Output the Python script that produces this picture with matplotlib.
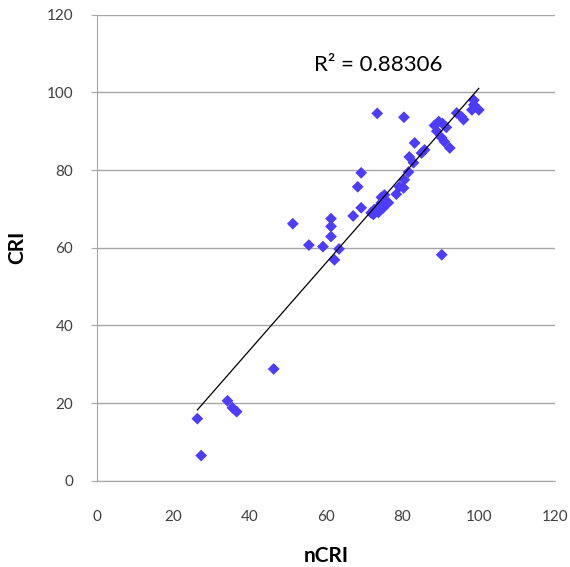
import numpy as np
import matplotlib
matplotlib.use("Agg")
import matplotlib.pyplot as plt

plt.rcParams['font.family'] = ['Lato', 'DejaVu Sans']

ncri = [26.3, 27.3, 34.2, 35.5, 36.6, 46.3, 51.3, 55.5, 59.2, 61.3, 61.3, 61.3,
        62.2, 63.4, 67.1, 68.3, 69.2, 69.2, 71.8, 72.4, 72.6, 73.4, 73.7, 73.7,
        74.5, 75.0, 75.3, 74.5, 75.3, 76.3, 78.4, 79.2, 80.3, 80.5, 80.4, 81.6,
        81.8, 82.9, 83.2, 85.0, 85.8, 88.4, 89.5, 89.0, 90.5, 91.5, 90.3, 91.0,
        92.4, 90.3, 94.2, 95.5, 96.0, 98.2, 98.7, 98.7, 100.0]
cri = [16.0, 6.5, 20.6, 18.8, 17.8, 28.8, 66.2, 60.7, 60.3, 67.5, 65.5, 62.9,
       56.9, 59.7, 68.2, 75.7, 79.3, 70.3, 69.0, 68.6, 69.8, 94.6, 70.5, 69.1,
       71.6, 70.3, 72.3, 73.0, 73.6, 71.6, 73.8, 75.7, 75.4, 77.5, 93.6, 79.5,
       83.4, 81.9, 87.0, 84.4, 85.2, 91.5, 92.5, 90.0, 92.0, 91.0, 88.3, 87.3,
       85.7, 58.2, 94.7, 93.7, 93.0, 95.5, 98.0, 96.8, 95.5]

x_ticks = [0, 20, 40, 60, 80, 100, 120]
y_ticks = [0, 20, 40, 60, 80, 100, 120]

fig = plt.figure(figsize=(5.7, 5.67), dpi=100)
ax = fig.add_axes([0.170, 0.152, 0.804, 0.822])

ax.scatter(ncri, cri, marker="D", s=36, color="#4d3cfa", edgecolors="none", zorder=3)

# linear trendline
x = np.array(ncri)
y = np.array(cri)
m, b = np.polyfit(x, y, 1)
xs = np.array([x.min(), x.max()])
ax.plot(xs, m * xs + b, color="black", lw=0.9, zorder=4)

ax.text(73.7, 107, "R² = 0.88306", fontsize=16, ha="center", va="center")

ax.set_xlim(0, 120)
ax.set_ylim(0, 120)
ax.set_xticks(x_ticks)
ax.set_yticks(y_ticks)
ax.yaxis.grid(True, color="#a6a6a6", lw=1)
ax.set_axisbelow(True)
for s in ["top", "right"]:
    ax.spines[s].set_visible(False)
for s in ["left", "bottom"]:
    ax.spines[s].set_color("#a6a6a6")
ax.tick_params(axis="y", length=4, color="#a6a6a6", labelsize=11, labelcolor="#404040", pad=13)
ax.tick_params(axis="x", length=0, labelsize=11, labelcolor="#404040", pad=21)

ax.set_xlabel("nCRI", fontsize=15, fontweight="bold", labelpad=16)
ax.set_ylabel("CRI", fontsize=15, fontweight="bold", labelpad=14)

fig.savefig("out.png", dpi=100)
